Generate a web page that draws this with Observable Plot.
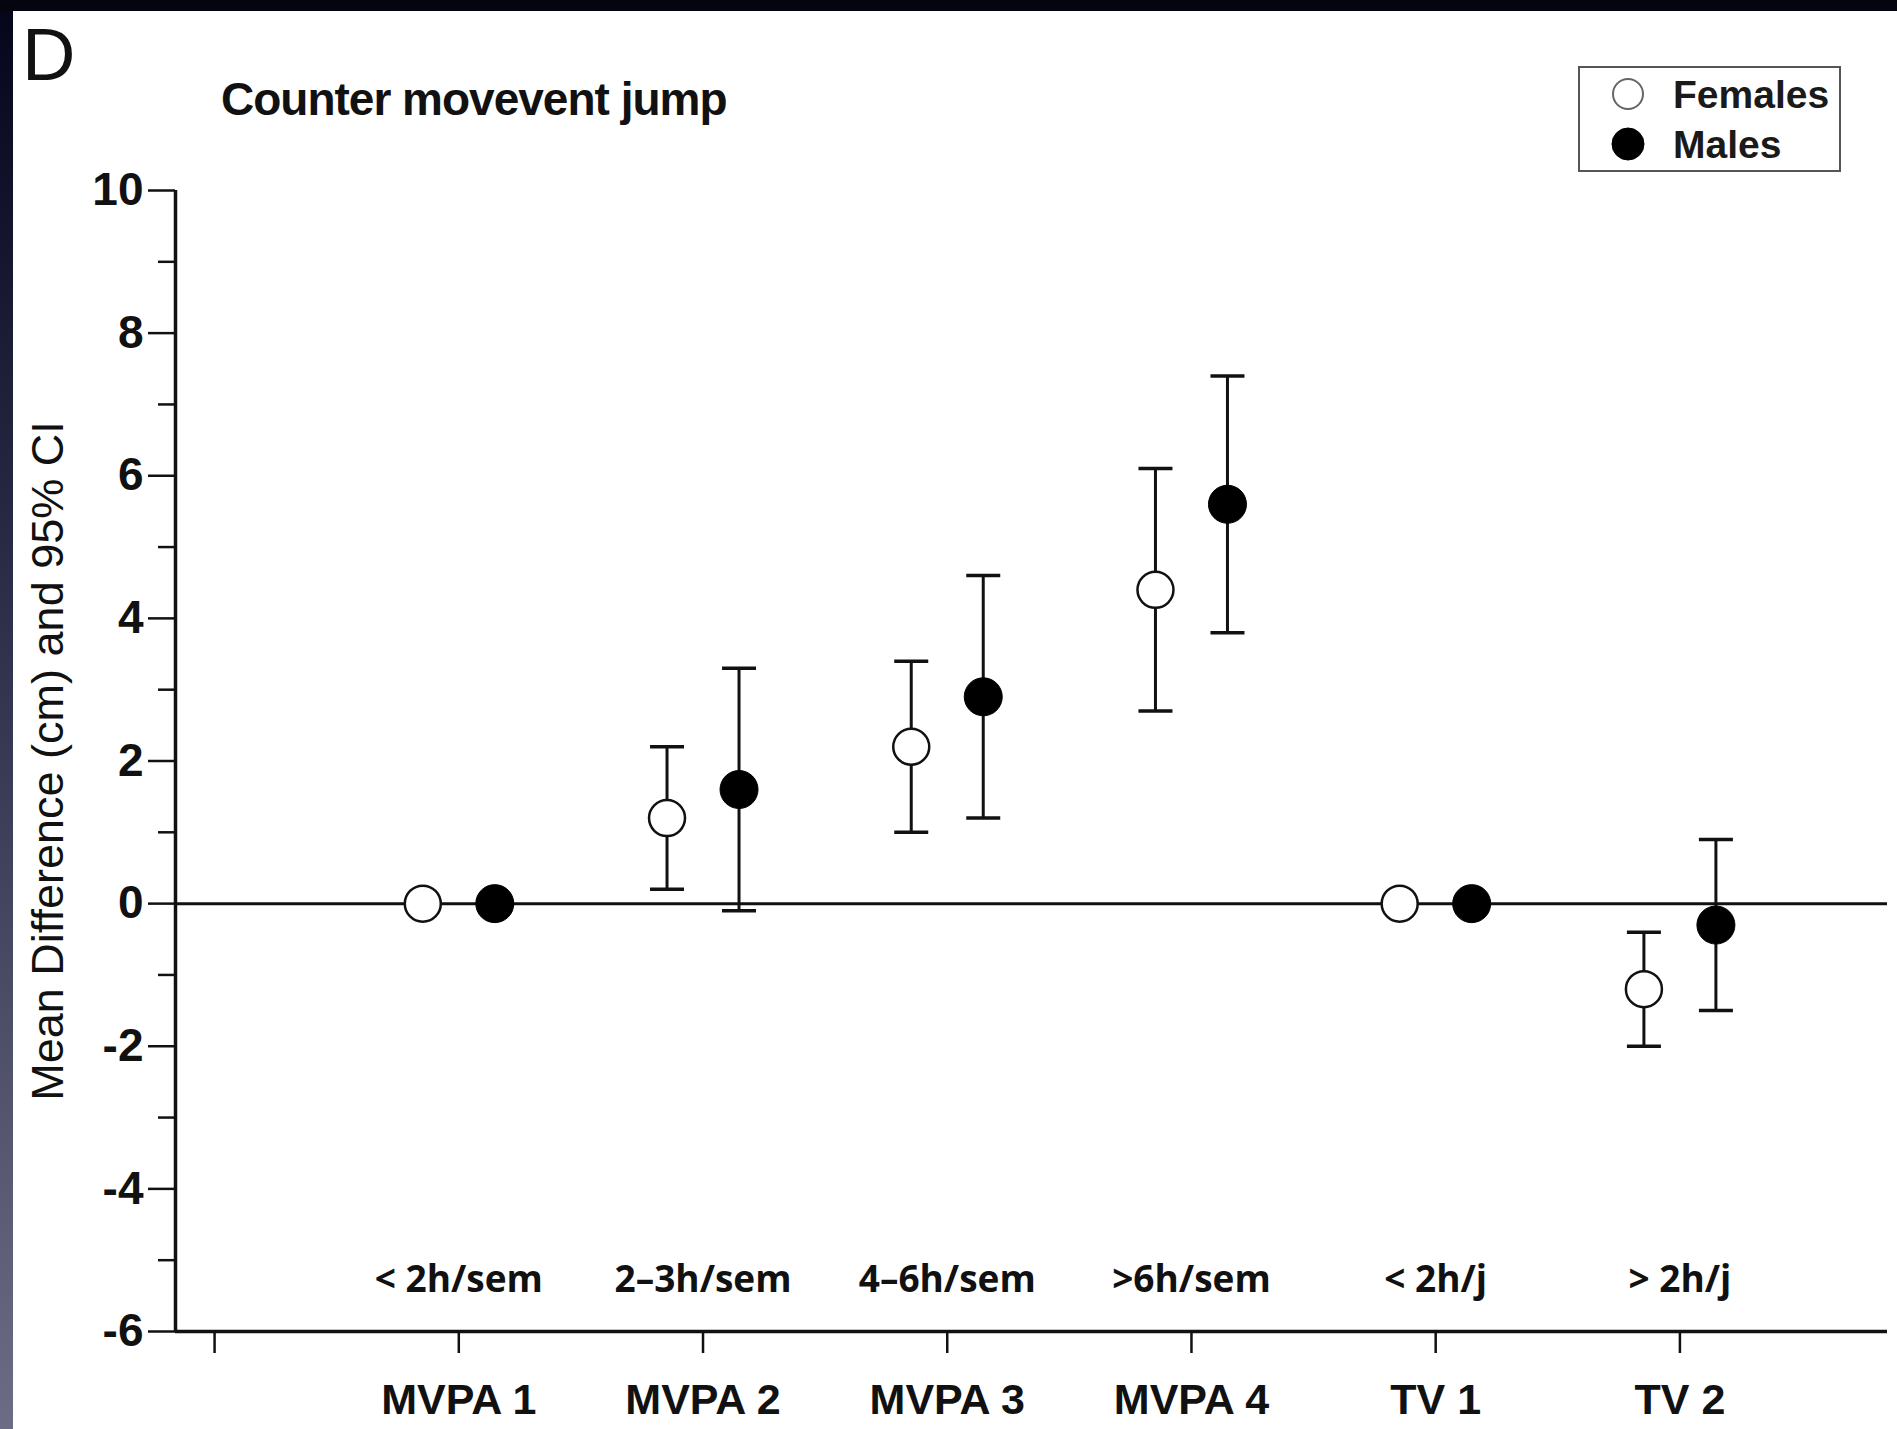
<!DOCTYPE html>
<html>
<head>
<meta charset="utf-8">
<script src="https://cdn.jsdelivr.net/npm/d3@7"></script>
<script src="https://cdn.jsdelivr.net/npm/@observablehq/plot@0.6"></script>
<style>
  html, body { margin: 0; padding: 0; background: #fff; }
  #page { position: relative; width: 1897px; height: 1429px; overflow: hidden; background: #fff; }
  #chart { position: absolute; left: 0; top: 0; }
  #overlay { position: absolute; left: 0; top: 0; pointer-events: none; }
  #leftband { position: absolute; left: 0; top: 0; width: 13px; height: 1429px;
    background: linear-gradient(#05051a, #2a2c48 40%, #6c6c84); }
  #topband { position: absolute; left: 0; top: 0; width: 1897px; height: 11px; background: #050510; }
</style>
</head>
<body>
<div id="page">
  <div id="chart"></div>
  <svg id="overlay" width="1897" height="1429"></svg>
  <div id="leftband"></div>
  <div id="topband"></div>
</div>
<script>
// ---- data ----
const categories = ["", "MVPA 1", "MVPA 2", "MVPA 3", "MVPA 4", "TV 1", "TV 2"];
const hourLabels = ["", "< 2h/sem", "2–3h/sem", "4–6h/sem", ">6h/sem", "< 2h/j", "> 2h/j"];
const femaleMean = [0, 1.2, 2.2, 4.4, 0, -1.2];
const femaleLow  = [null, 0.2, 1.0, 2.7, null, -2.0];
const femaleHigh = [null, 2.2, 3.4, 6.1, null, -0.4];
const maleMean   = [0, 1.6, 2.9, 5.6, 0, -0.3];
const maleLow    = [null, -0.1, 1.2, 3.8, null, -1.5];
const maleHigh   = [null, 3.3, 4.6, 7.4, null, 0.9];
const yMajorTicks = [-6, -4, -2, 0, 2, 4, 6, 8, 10];
const yMinorTicks = [-5, -3, -1, 1, 3, 5, 7, 9];
const legendItems = ["Females", "Males"];
const title = "Counter movevent jump";
const panelLetter = "D";
const yLabel = "Mean Difference (cm) and 95% CI";

// ---- build tables ----
const females = femaleMean.map((m, i) => ({x: i + 1, mean: m, lo: femaleLow[i], hi: femaleHigh[i]}));
const males = maleMean.map((m, i) => ({x: i + 1, mean: m, lo: maleLow[i], hi: maleHigh[i]}));
const fBars = females.filter(d => d.lo != null);
const mBars = males.filter(d => d.lo != null);
const hourRows = hourLabels.map((t, i) => ({x: i, t})).filter(d => d.t !== "");

const capSymbol = {
  draw(ctx, size) {
    const r = Math.sqrt(size / Math.PI);
    ctx.moveTo(-r, 0);
    ctx.lineTo(r, 0);
  }
};

const off = 36;
const xMin = -0.16, xMax = 6.85;
const ink = "#111";

const chart = Plot.plot({
  width: 1897,
  height: 1429,
  marginLeft: 175,
  marginRight: 10,
  marginTop: 190,
  marginBottom: 98,
  style: {background: "transparent", color: ink, fontFamily: "'Liberation Sans', Arial, sans-serif"},
  x: {type: "linear", domain: [xMin, xMax], axis: null},
  y: {domain: [-6, 10], axis: null},
  marks: [
    Plot.axisY({ticks: yMajorTicks, tickSize: 27, tickPadding: 5, fontSize: 46, fontWeight: "bold",
      strokeWidth: 2.5, label: null, tickFormat: d => String(d)}),
    Plot.axisY({ticks: yMinorTicks, tickSize: 17, strokeWidth: 2.5, label: null, tickFormat: () => ""}),
    Plot.axisX({ticks: d3.range(0, 7), tickSize: 22, tickPadding: 30, fontSize: 43, fontWeight: "bold",
      strokeWidth: 2.5, label: null, tickFormat: i => categories[i]}),
    Plot.ruleY([-6], {stroke: ink, strokeWidth: 3.5}),
    Plot.ruleX([xMin], {stroke: ink, strokeWidth: 3.5}),
    Plot.ruleY([0], {stroke: ink, strokeWidth: 3}),
    Plot.text([yLabel], {frameAnchor: "left", textAnchor: "middle", rotate: -90, dx: -127, fontSize: 45, fill: ink}),
    Plot.text(hourRows, {x: "x", text: "t", frameAnchor: "bottom", dy: -51, lineAnchor: "middle",
      fontSize: 37, fontWeight: "bold", fontFamily: "'Open Sans', 'Noto Sans', sans-serif", fill: ink,
      style: "letter-spacing:3px"}),
    // error bars
    Plot.ruleX(fBars, {x: "x", y1: "lo", y2: "hi", dx: -off, stroke: ink, strokeWidth: 3}),
    Plot.ruleX(mBars, {x: "x", y1: "lo", y2: "hi", dx: off, stroke: ink, strokeWidth: 3}),
    Plot.dot(fBars, {x: "x", y: "lo", dx: -off, symbol: capSymbol, r: 17, fill: "none", stroke: ink, strokeWidth: 3.5}),
    Plot.dot(fBars, {x: "x", y: "hi", dx: -off, symbol: capSymbol, r: 17, fill: "none", stroke: ink, strokeWidth: 3.5}),
    Plot.dot(mBars, {x: "x", y: "lo", dx: off, symbol: capSymbol, r: 17, fill: "none", stroke: ink, strokeWidth: 3.5}),
    Plot.dot(mBars, {x: "x", y: "hi", dx: off, symbol: capSymbol, r: 17, fill: "none", stroke: ink, strokeWidth: 3.5}),
    // points
    Plot.dot(females, {x: "x", y: "mean", dx: -off, r: 18, fill: "white", stroke: ink, strokeWidth: 2.5}),
    Plot.dot(males, {x: "x", y: "mean", dx: off, r: 19, fill: "black", stroke: "black", strokeWidth: 1})
  ]
});
document.getElementById("chart").appendChild(chart);

// ---- overlay: panel letter, title, legend ----
const ov = d3.select("#overlay");
ov.append("text").attr("x", 22).attr("y", 80).attr("font-family", "'Liberation Sans', Arial, sans-serif")
  .attr("font-size", 74).attr("fill", ink).text(panelLetter);
ov.append("text").attr("x", 221).attr("y", 115).attr("font-family", "'Liberation Sans', Arial, sans-serif")
  .attr("font-size", 46).attr("font-weight", "bold").attr("letter-spacing", "-1px").attr("fill", ink).text(title);
ov.append("rect").attr("x", 1579).attr("y", 67).attr("width", 261).attr("height", 104)
  .attr("fill", "white").attr("stroke", "#555").attr("stroke-width", 2);
legendItems.forEach((name, i) => {
  const cy = 94 + i * 50;
  ov.append("circle").attr("cx", 1628).attr("cy", cy).attr("r", i === 0 ? 15 : 16)
    .attr("fill", i === 0 ? "white" : "black").attr("stroke", i === 0 ? "#666" : "black").attr("stroke-width", i === 0 ? 2 : 1);
  ov.append("text").attr("x", 1673).attr("y", cy + 14).attr("font-family", "'Liberation Sans', Arial, sans-serif")
    .attr("font-size", 39).attr("font-weight", "bold").attr("fill", "#1a1a1a").text(name);
});
</script>
</body>
</html>
